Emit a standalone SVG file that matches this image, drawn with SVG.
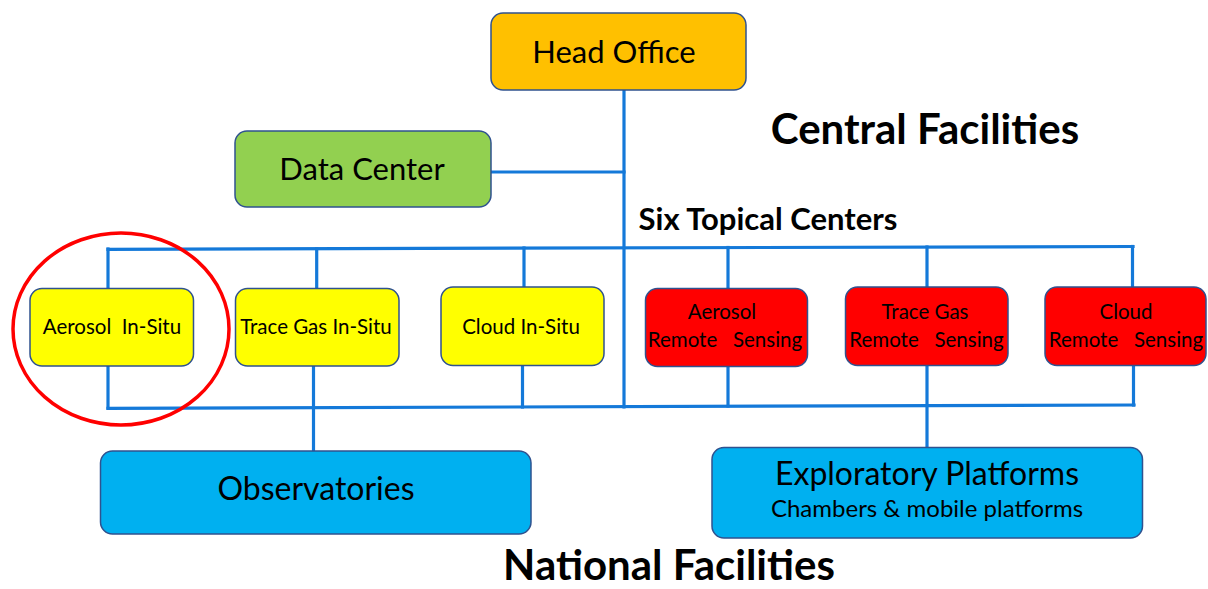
<svg xmlns="http://www.w3.org/2000/svg" width="1208" height="589" viewBox="0 0 1208 589">
  <style>
    .box { stroke: #2F528F; stroke-width: 1.5; }
    .head { fill: #FFC000; }
    .data { fill: #92D050; }
    .insitu { fill: #FFFF00; }
    .remote { fill: #FF0000; }
    .natl { fill: #00B0F0; }
    .wire { stroke: #1479D9; stroke-width: 3.2; fill: none; stroke-linecap: square; }
    text { font-family: Lato, "Open Sans", "Liberation Sans", sans-serif; fill: #000; text-anchor: middle; white-space: pre; }
    .big { font-size: 31px; }
    .bigger { font-size: 32px; }
    .mid { font-size: 24px; }
    .small { font-size: 20.5px; }
    .title { font-size: 42px; font-weight: bold; }
    .sub { font-size: 31px; font-weight: bold; }
  </style>

  <!-- connectors -->
  <g id="connectors" class="wire">
    <path d="M624 90 V407"/>
    <path d="M491 172 H624"/>
    <path d="M108 249.3 L1133 246.5"/>
    <path d="M108 408.3 L1134 405"/>
    <path d="M108 249 V288"/>
    <path d="M316.7 249 V288"/>
    <path d="M524 248 V287"/>
    <path d="M728 247.5 V288"/>
    <path d="M927 247 V287"/>
    <path d="M1132.5 246.5 V287"/>
    <path d="M108 366 V408"/>
    <path d="M313.5 366 V451"/>
    <path d="M522.5 366 V407"/>
    <path d="M728 367 V406"/>
    <path d="M927 366 V447"/>
    <path d="M1133.5 366 V405"/>
  </g>

  <!-- central facilities -->
  <g id="head-office">
    <rect class="box head" x="491" y="13" width="255" height="77" rx="12"/>
    <text class="big" x="614" y="63">Head Office</text>
  </g>
  <g id="data-center">
    <rect class="box data" x="235" y="131" width="256" height="76" rx="12"/>
    <text class="big" x="362" y="180">Data Center</text>
  </g>

  <!-- six topical centers -->
  <g id="aerosol-in-situ">
    <rect class="box insitu" x="30" y="288.5" width="163.5" height="77.5" rx="12"/>
    <text class="small" x="112" y="334">Aerosol  In-Situ</text>
  </g>
  <g id="trace-gas-in-situ">
    <rect class="box insitu" x="235.5" y="288.5" width="163.5" height="77.5" rx="12"/>
    <text class="small" x="316" y="334">Trace Gas In-Situ</text>
  </g>
  <g id="cloud-in-situ">
    <rect class="box insitu" x="441" y="287" width="163" height="78.5" rx="12"/>
    <text class="small" x="521" y="333.5">Cloud In-Situ</text>
  </g>
  <g id="aerosol-remote-sensing">
    <rect class="box remote" x="645.5" y="288.5" width="162" height="78" rx="12"/>
    <text class="small" x="722" y="319">Aerosol</text>
    <text class="small" x="725" y="347">Remote   Sensing</text>
  </g>
  <g id="trace-gas-remote-sensing">
    <rect class="box remote" x="845.5" y="287" width="162.5" height="78.5" rx="12"/>
    <text class="small" x="925" y="319">Trace Gas</text>
    <text class="small" x="926.5" y="347">Remote   Sensing</text>
  </g>
  <g id="cloud-remote-sensing">
    <rect class="box remote" x="1045" y="287" width="161" height="78.5" rx="12"/>
    <text class="small" x="1126" y="319">Cloud</text>
    <text class="small" x="1126" y="347">Remote   Sensing</text>
  </g>

  <!-- national facilities -->
  <g id="observatories">
    <rect class="box natl" x="100.5" y="451" width="430.5" height="83" rx="12"/>
    <text class="bigger" x="316" y="500">Observatories</text>
  </g>
  <g id="exploratory-platforms">
    <rect class="box natl" x="712" y="447.5" width="430.5" height="90.5" rx="12"/>
    <text class="bigger" x="927" y="485">Exploratory Platforms</text>
    <text class="mid" x="927" y="517">Chambers &amp; mobile platforms</text>
  </g>

  <!-- highlight ring -->
  <ellipse cx="121" cy="329" rx="108" ry="96" fill="none" stroke="#FF0000" stroke-width="3.5"/>

  <!-- section labels -->
  <text class="title" x="925" y="144">Central Facilities</text>
  <text class="sub" x="768" y="230">Six Topical Centers</text>
  <text class="title" x="669" y="580">National Facilities</text>
</svg>
